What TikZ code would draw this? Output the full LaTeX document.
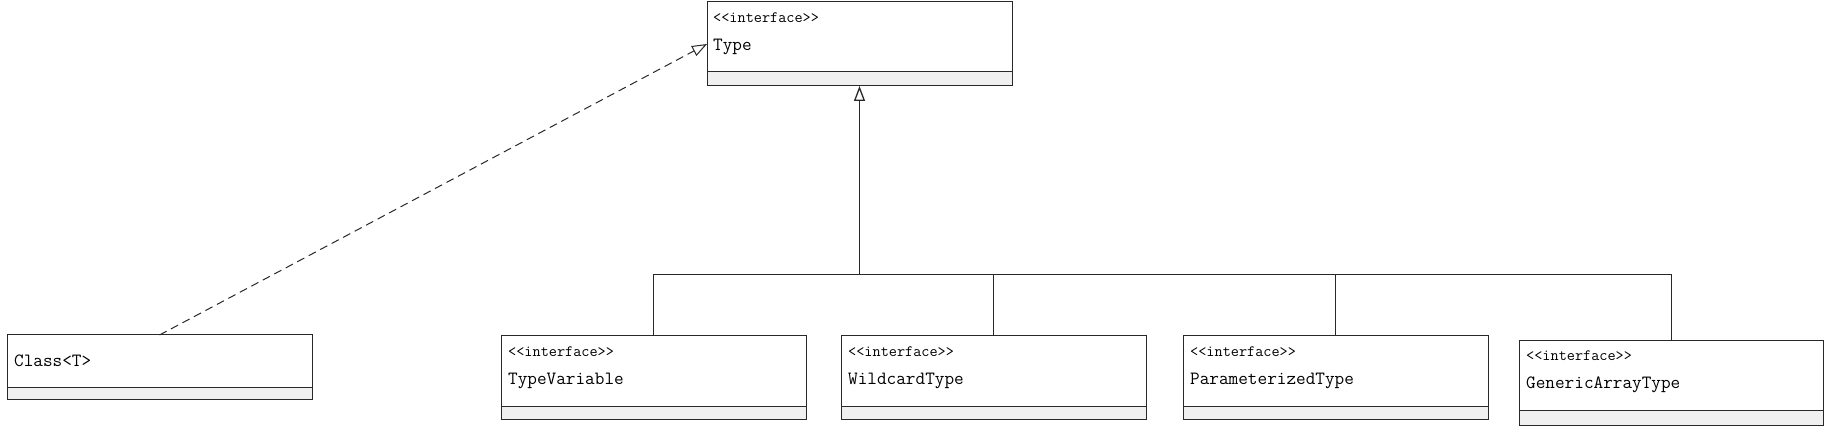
\documentclass[tikz,border=0pt]{standalone}
\usetikzlibrary{arrows.meta, positioning, calc}
\definecolor{opsgray}{RGB}{240,240,240}
\definecolor{umlline}{RGB}{40,40,40}

\begin{document}
\begin{tikzpicture}[x=1pt, y=-1pt, >=Stealth]
  \tikzstyle{umlname} = [rectangle, draw=umlline, fill=white, minimum width=305pt, minimum height=71pt, inner sep=0pt, outer sep=0pt, anchor=north west, line width=1pt]
  \tikzstyle{umlops} = [rectangle, draw=umlline, fill=opsgray, minimum width=305pt, minimum height=13pt, inner sep=0pt, outer sep=0pt, line width=1pt]
  \tikzstyle{stereo} = [anchor=west, inner sep=0pt, font=\fontsize{15.8}{18}\ttfamily]
  \tikzstyle{clsname} = [anchor=west, inner sep=0pt, font=\fontsize{18.7}{22}\ttfamily]
  \tikzstyle{realize} = [umlline, line width=1pt, dash pattern=on 8pt off 5pt, -{Triangle[open, length=15pt, width=11pt, fill=white]}]
  \tikzstyle{inherit} = [umlline, line width=1.3pt, -{Triangle[open, length=15pt, width=11pt, fill=white]}]
  \tikzstyle{branch} = [umlline, line width=1pt]

  \useasboundingbox (0,0) rectangle (1829,427);

  % interface Type
  \node [umlname, minimum height=70pt] (type) at (707, 2) {};
  \node [umlops, minimum height=14pt, below=0pt of type] (typeops) {};
  \node [stereo] (typest) at ($(type.north west)+(6,16)$) {<<interface>>};
  \node [clsname] (typenm) at ($(type.north west)+(6,45)$) {Type};

  % Class<T>
  \node [umlname, minimum height=53pt] (cls) at (7, 335) {};
  \node [umlops, minimum height=12pt, below=0pt of cls] (clsops) {};
  \node [clsname] (clsnm) at ($(cls.north west)+(7,26)$) {Class<T>};

  % sub-interfaces
  \node [umlname] (tvar) at (501, 336) {};
  \node [umlops, below=0pt of tvar] (tvarops) {};
  \node [stereo] (tvarst) at ($(tvar.north west)+(7,16)$) {<<interface>>};
  \node [clsname] (tvarnm) at ($(tvar.north west)+(7,45)$) {TypeVariable};

  \node [umlname] (wild) at (841, 336) {};
  \node [umlops, below=0pt of wild] (wildops) {};
  \node [stereo] (wildst) at ($(wild.north west)+(7,16)$) {<<interface>>};
  \node [clsname] (wildnm) at ($(wild.north west)+(7,45)$) {WildcardType};

  \node [umlname] (param) at (1183, 336) {};
  \node [umlops, below=0pt of param] (paramops) {};
  \node [stereo] (paramst) at ($(param.north west)+(7,16)$) {<<interface>>};
  \node [clsname] (paramnm) at ($(param.north west)+(7,45)$) {ParameterizedType};

  \node [umlname, minimum height=70pt, minimum width=304pt] (garr) at (1519, 341) {};
  \node [umlops, minimum height=15pt, minimum width=304pt, below=0pt of garr] (garrops) {};
  \node [stereo] (garrst) at ($(garr.north west)+(7,15)$) {<<interface>>};
  \node [clsname] (garrnm) at ($(garr.north west)+(7,44)$) {GenericArrayType};

  \coordinate (bus) at ($(typeops.south)+(0,189)$);
  \coordinate (typein) at ($(type.west)+(0,7)$);

  \draw [realize] (cls.north) -- (typein);
  \draw [branch] (tvar.north) |- (bus);
  \draw [branch] (wild.north) |- (bus);
  \draw [branch] (param.north) |- (bus);
  \draw [branch] (garr.north) |- (bus);
  \draw [inherit] (bus) -- (typeops.south);
\end{tikzpicture}
\end{document}
